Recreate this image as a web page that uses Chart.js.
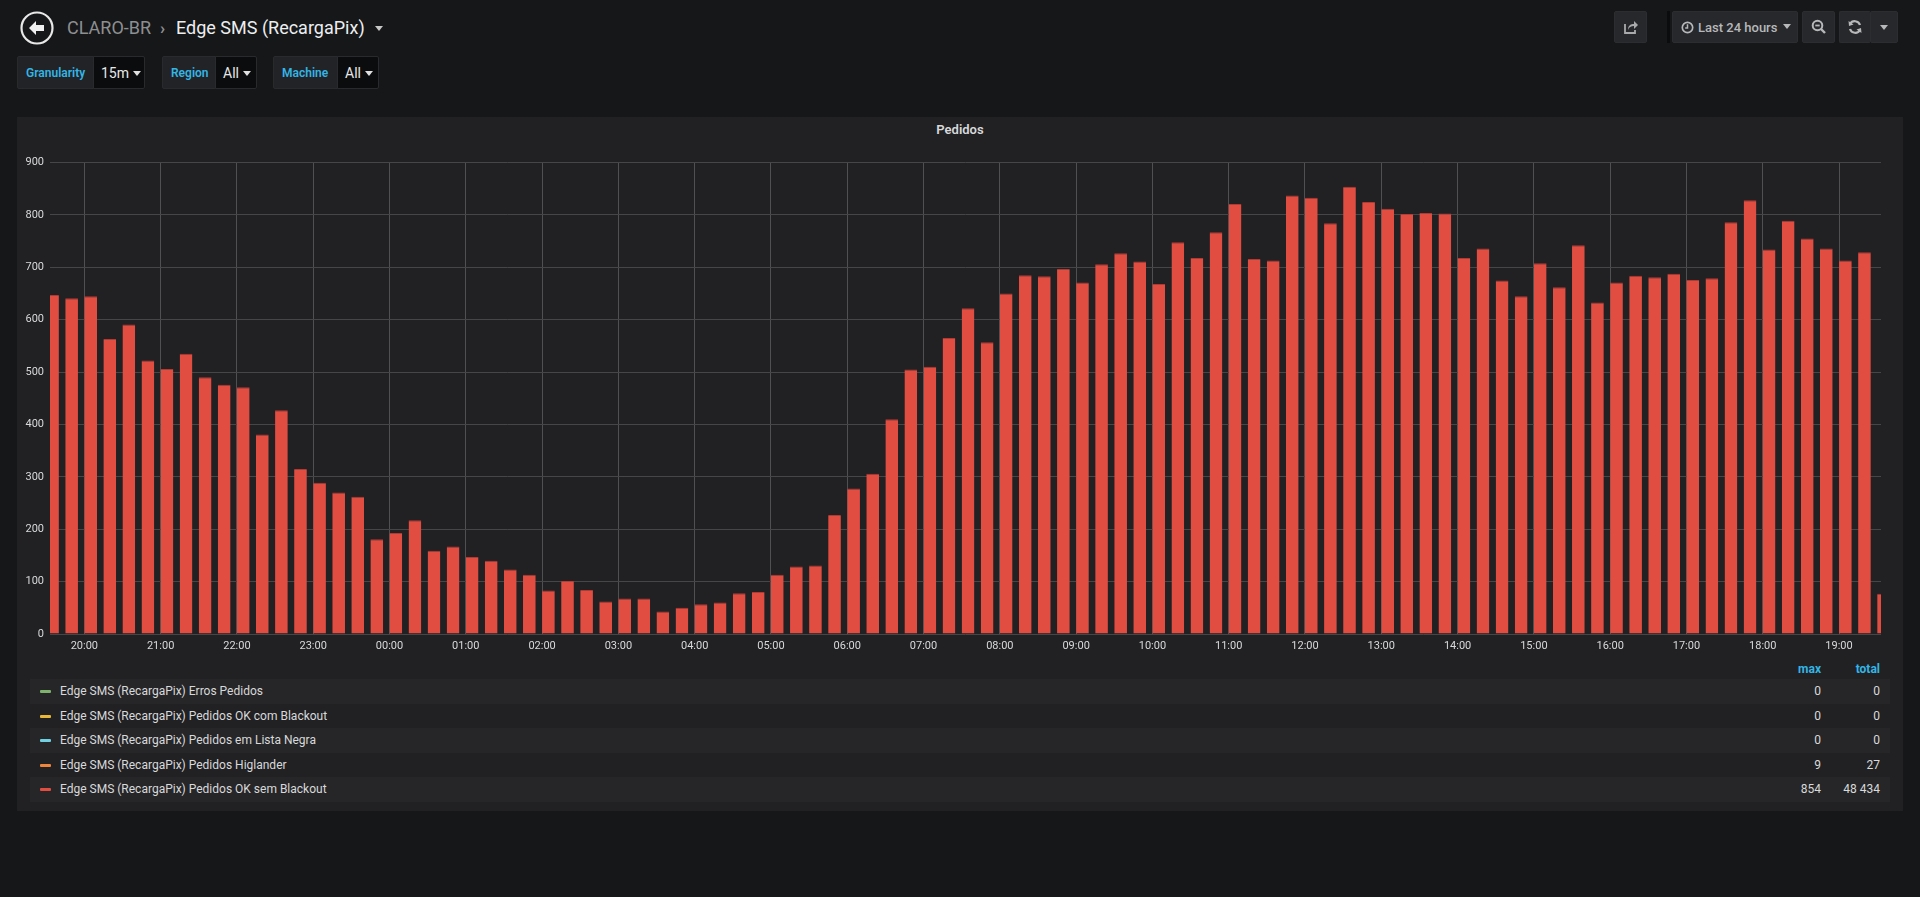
<!DOCTYPE html>
<html>
<head>
<meta charset="utf-8">
<title>Edge SMS (RecargaPix)</title>
<script src="https://cdn.jsdelivr.net/npm/chart.js@4.4.1/dist/chart.umd.min.js"></script>
<style>
  html, body { margin: 0; padding: 0; }
  body {
    width: 1920px; height: 897px; overflow: hidden;
    background: #161719; font-family: Roboto, "Noto Sans", sans-serif; color: #d8d9da;
    position: relative;
  }
  .abs { position: absolute; }
  .crumb { top: 14px; font-size: 18px; line-height: 28px; white-space: nowrap; }
  .var-label, .var-value {
    position: absolute; top: 56px; height: 33px; line-height: 33px; box-sizing: border-box;
    font-size: 12px; white-space: nowrap;
  }
  .var-label { background: #222326; border: 1px solid #292a2d; color: #33b5e5; font-weight: 600; padding-left: 8px; border-radius: 2px 0 0 2px; }
  .var-value { background: #0b0c0e; border: 1px solid #292a2d; color: #e8e8e8; font-size: 14px; padding-left: 7px; border-radius: 0 2px 2px 0; }
  .caret { display: inline-block; width: 0; height: 0; border-left: 4px solid transparent; border-right: 4px solid transparent; border-top: 5px solid #e0e0e0; vertical-align: middle; margin-left: 4px; margin-top: -2px; }
  .btn { position: absolute; top: 11px; height: 32px; background: #27282b; border: 1px solid #2c2d30; box-sizing: border-box; border-radius: 2px; display: flex; align-items: center; justify-content: center; color: #b7b8ba; }
  #panel { left: 17px; top: 117px; width: 1886px; height: 694px; background: #212124; }
  #title { left: 17px; width: 1886px; top: 122px; text-align: center; font-size: 13px; font-weight: 600; color: #d8d9da; }
  #chartBox { left: 20px; top: 150px; width: 1870px; height: 510px; }
  .lg-head { top: 662px; font-size: 12px; font-weight: 700; color: #33b5e5; text-align: right; }
  .lg-row { position: absolute; left: 30px; width: 1860px; height: 24.5px; font-size: 12px; line-height: 24.5px; color: #d8d9da; }
  .lg-row.odd { background: #262628; }
  .lg-sw { position: absolute; left: 10px; top: 11px; width: 11px; height: 3px; border-radius: 1px; }
  .lg-name { position: absolute; left: 30px; }
  .lg-max { position: absolute; right: 69px; }
  .lg-total { position: absolute; right: 10px; }
</style>
</head>
<body>

<!-- header -->
<svg class="abs" style="left:20px;top:11px" width="34" height="34" viewBox="0 0 34 34">
  <circle cx="17" cy="17" r="15.5" fill="none" stroke="#e8e8e8" stroke-width="2.2"/>
  <path d="M9 17 L16 10 L16 14 L24 14 L24 20 L16 20 L16 24 Z" fill="#f0f0f0"/>
</svg>
<div class="abs crumb" style="left:67px;color:#8e8f91">CLARO-BR</div>
<div class="abs crumb" style="left:160px;color:#8e8f91;font-size:17px;font-weight:700">&#x203A;</div>
<div class="abs crumb" style="left:176px;color:#eceef0">Edge SMS (RecargaPix) <span class="caret" style="border-top-color:#c8c8c8;margin-left:6px"></span></div>

<div class="var-label" style="left:17px;width:77px">Granularity</div>
<div class="var-value" style="left:93px;width:52px">15m<span class="caret"></span></div>
<div class="var-label" style="left:162px;width:54px">Region</div>
<div class="var-value" style="left:215px;width:42px">All<span class="caret"></span></div>
<div class="var-label" style="left:273px;width:65px">Machine</div>
<div class="var-value" style="left:337px;width:42px">All<span class="caret"></span></div>

<div class="btn" style="left:1614px;width:33px">
  <svg width="16" height="16" viewBox="0 0 16 16"><path d="M2 5 v9 h10 v-3" fill="none" stroke="#a9aaac" stroke-width="1.8"/><path d="M5 11 C5 6 8 5 11 5 V2 L15 6 L11 10 V7 C8 7 6 8 5 11 Z" fill="#a9aaac"/></svg>
</div>
<div class="abs" style="left:1667px;top:11px;width:3px;height:32px;background:#0b0c0e"></div>
<div class="btn" style="left:1672px;width:126px;font-size:13px;font-weight:500;justify-content:flex-start;padding-left:8px">
  <svg width="13" height="13" viewBox="0 0 14 14" style="margin-right:4px"><circle cx="7" cy="7" r="5.6" fill="none" stroke="#b7b8ba" stroke-width="1.8"/><path d="M7 3.5 V7.5 H4.5" fill="none" stroke="#b7b8ba" stroke-width="1.6"/></svg>
  Last 24 hours<span class="caret" style="border-top-color:#b7b8ba;margin-left:6px"></span>
</div>
<div class="btn" style="left:1802px;width:33px">
  <svg width="16" height="16" viewBox="0 0 16 16"><circle cx="6.5" cy="6.5" r="4.8" fill="none" stroke="#b7b8ba" stroke-width="2"/><path d="M4.3 6.5 H8.7" stroke="#b7b8ba" stroke-width="1.8"/><path d="M10 10 L14 14" stroke="#b7b8ba" stroke-width="2.4"/></svg>
</div>
<div class="btn" style="left:1839px;width:32px;border-right:1px solid #1c1d20">
  <svg width="16" height="16" viewBox="0 0 16 16"><path d="M13 6 A5.5 5.5 0 0 0 3 5" fill="none" stroke="#b7b8ba" stroke-width="2.2"/><path d="M1.5 2 L2 7 L6.5 5.5 Z" fill="#b7b8ba"/><path d="M3 10 A5.5 5.5 0 0 0 13 11" fill="none" stroke="#b7b8ba" stroke-width="2.2"/><path d="M14.5 14 L14 9 L9.5 10.5 Z" fill="#b7b8ba"/></svg>
</div>
<div class="btn" style="left:1870px;width:28px"><span class="caret" style="border-top-color:#b7b8ba;margin:0"></span></div>

<!-- panel -->
<div id="panel" class="abs"></div>
<div id="title" class="abs">Pedidos</div>
<div id="chartBox" class="abs"><canvas id="barChart"></canvas></div>
<div class="abs lg-head" style="left:1780px;width:41px">max</div>
<div class="abs lg-head" style="left:1830px;width:50px">total</div>
<div id="legend"></div>

<script>
// 15 minute buckets, first one starts 19:30
const bucketStart = 19 * 60 + 30;
const bucketStep = 15;

// Edge SMS (RecargaPix) Pedidos OK sem Blackout
const pedidosOk = [
    647, 641, 645, 563, 591, 522, 506, 535, 490, 476, 471, 381, 427, 315, 289, 270,
    262, 181, 193, 217, 159, 167, 147, 140, 123, 113, 83, 101, 84, 62, 68, 68,
    43, 50, 57, 60, 78, 80, 113, 129, 131, 227, 278, 306, 410, 505, 510, 565,
    622, 557, 650, 685, 683, 697, 671, 706, 727, 711, 668, 748, 718, 767, 821, 716,
    713, 837, 833, 784, 854, 825, 812, 802, 804, 803, 718, 736, 675, 645, 708, 662,
    742, 633, 671, 684, 681, 688, 676, 679, 786, 828, 734, 789, 755, 736, 713, 729,
    77
];

const tickLabels = [
    "20:00", "21:00", "22:00", "23:00", "00:00", "01:00", "02:00", "03:00",
    "04:00", "05:00", "06:00", "07:00", "08:00", "09:00", "10:00", "11:00",
    "12:00", "13:00", "14:00", "15:00", "16:00", "17:00", "18:00", "19:00"
];
const firstTick = 20 * 60;

const seriesNames = [
    "Edge SMS (RecargaPix) Erros Pedidos",
    "Edge SMS (RecargaPix) Pedidos OK com Blackout",
    "Edge SMS (RecargaPix) Pedidos em Lista Negra",
    "Edge SMS (RecargaPix) Pedidos Higlander",
    "Edge SMS (RecargaPix) Pedidos OK sem Blackout"
];
const seriesColors = ["#7eb26d", "#eab839", "#6ed0e0", "#ef843c", "#e24d42"];
const seriesMax = ["0", "0", "0", "9", "854"];
const seriesTotal = ["0", "0", "0", "27", "48 434"];

// visible time window (last 24 hours)
const rangeMin = 19 * 60 + 33;
const rangeMax = rangeMin + 24 * 60;

// bars are drawn from the bucket start, 2/3 of the bucket wide
const barFraction = 2 / 3;

function buildLegend() {
    let box = document.getElementById("legend");
    seriesNames.map((name, i) => {
        let row = document.createElement("div");
        row.className = "lg-row" + (i % 2 === 0 ? " odd" : "");
        row.style.top = (679 + i * 24.5) + "px";
        row.innerHTML =
            '<span class="lg-sw" style="background:' + seriesColors[i] + '"></span>' +
            '<span class="lg-name">' + name + '</span>' +
            '<span class="lg-max">' + seriesMax[i] + '</span>' +
            '<span class="lg-total">' + seriesTotal[i] + '</span>';
        box.appendChild(row);
    });
}

function generateBarChart() {
    let points = [];
    pedidosOk.map((value, i) => {
        let start = bucketStart + i * bucketStep;
        points.push({ x: start + bucketStep * barFraction / 2, y: value });
    });

    let ctx = document.getElementById("barChart").getContext("2d");
    new Chart(ctx, {
        type: "bar",
        data: {
            datasets: [
                {
                    label: seriesNames[4],
                    data: points,
                    backgroundColor: "#e24d42",
                    borderColor: "rgba(190,62,54,0.9)",
                    borderWidth: { top: 1, left: 0, right: 0, bottom: 0 },
                    borderSkipped: false,
                    categoryPercentage: 1,
                    barPercentage: barFraction,
                    clip: 0
                }
            ]
        },
        options: {
            responsive: true,
            maintainAspectRatio: false,
            animation: false,
            layout: { padding: { top: 12, right: 9, left: 0, bottom: 0 } },
            plugins: {
                legend: { display: false },
                tooltip: { enabled: false }
            },
            scales: {
                x: {
                    type: "linear",
                    min: rangeMin,
                    max: rangeMax,
                    offset: false,
                    afterBuildTicks: (scale) => {
                        scale.ticks = tickLabels.map((label, i) => ({ value: firstTick + i * 60 }));
                    },
                    afterFit: (scale) => { scale.height = 26; },
                    ticks: {
                        color: "#d8d9da",
                        font: { family: "Roboto", size: 11 },
                        padding: 6,
                        maxRotation: 0,
                        autoSkip: false,
                        callback: (value, index) => tickLabels[index]
                    },
                    grid: { color: "#505052", drawTicks: false, offset: false },
                    border: { display: false }
                },
                y: {
                    min: 0,
                    max: 900,
                    afterFit: (scale) => { scale.width = 30; },
                    ticks: {
                        stepSize: 100,
                        color: "#d8d9da",
                        font: { family: "Roboto", size: 11 },
                        padding: 6
                    },
                    grid: { color: "#464648", drawTicks: false },
                    border: { display: false }
                }
            }
        }
    });
}

buildLegend();
generateBarChart();
</script>
</body>
</html>
